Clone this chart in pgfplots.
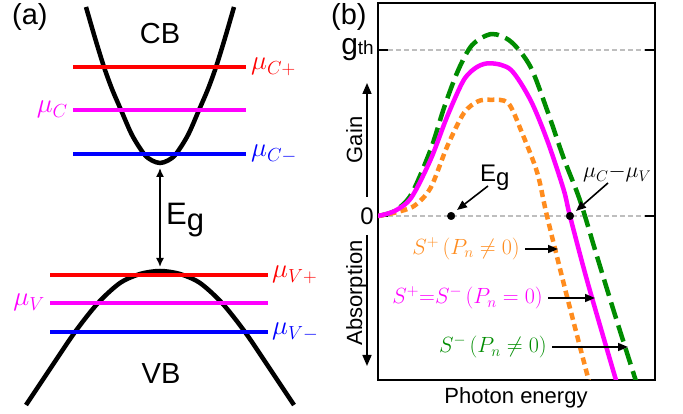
\documentclass[border=0pt]{standalone}
\usepackage{fix-cm}
\usepackage{pgfplots}
\pgfplotsset{compat=1.18}
\usepackage{fontspec}
\setmainfont{Liberation Sans}
\setsansfont{Liberation Sans}
\usetikzlibrary{arrows.meta}
\definecolor{cgreen}{RGB}{0,140,0}
\definecolor{corange}{RGB}{255,140,30}
\definecolor{cmag}{RGB}{255,0,255}
\definecolor{cred}{RGB}{255,0,0}
\definecolor{cblue}{RGB}{0,0,255}
\definecolor{cgray}{RGB}{190,190,190}
\newcommand{\fs}[1]{\fontsize{#1}{#1}\selectfont}
\begin{document}
\begin{tikzpicture}
\useasboundingbox (0,0) rectangle (683pt,414pt);
% ---------------- panel (a)
\begin{axis}[at={(0pt,0pt)}, anchor=south west, scale only axis,
  width=330pt, height=414pt, xmin=0, xmax=330, ymin=0, ymax=414,
  y dir=reverse, hide axis, clip=false]
\addplot[black, line width=4.5pt, smooth] coordinates {
 (86,7) (95,38) (104,67) (112,89) (121,110) (132,135) (144,154) (152,160.5) (160,163)
 (168,160.5) (176,154) (188,135) (199,110) (208,89) (216,67) (225,38) (234,7)};
\addplot[black, line width=4.5pt, smooth] coordinates {
 (26,405) (50,369) (75,332) (98,303) (120,283) (140,274) (160,271)
 (180,274) (200,283) (222,303) (245,332) (270,369) (294,405)};
\addplot[cred, line width=4.5pt] coordinates {(73,67) (246,67)};
\addplot[cmag, line width=4.5pt] coordinates {(73,110) (246,110)};
\addplot[cblue, line width=4.5pt] coordinates {(73,154) (246,154)};
\addplot[cred, line width=4.5pt] coordinates {(50,275) (268,275)};
\addplot[cmag, line width=4.5pt] coordinates {(50,303) (268,303)};
\addplot[cblue, line width=4.5pt] coordinates {(50,332) (268,332)};
\end{axis}
% ---------------- panel (b)
\begin{axis}[at={(378pt,34pt)}, anchor=south west, scale only axis,
  width=277pt, height=377pt, xmin=0, xmax=10, ymin=-0.988, ymax=1.283,
  axis line style={line width=1.6pt}, xtick=\empty, ytick={0,1},
  yticklabels={0,{\fs{30}g\fs{19}th}}, tick align=inside,
  major tick length=10pt, tick style={line width=1.6pt, black},
  yticklabel style={font=\fs{24}, inner sep=0pt, xshift=-4pt}]
\addplot[cgray, line width=1.5pt, dash pattern=on 5pt off 3pt] coordinates {(0.36,0) (9.64,0)};
\addplot[cgray, line width=1.5pt, dash pattern=on 5pt off 3pt] coordinates {(0.36,1) (9.64,1)};
\addplot[cgreen, line width=4.5pt, dash pattern=on 17pt off 7pt, smooth] coordinates {
 (0,0) (0.6,0.03) (1.2,0.13) (1.9,0.40) (2.4,0.66) (2.9,0.88) (3.4,1.03) (4.1,1.096)
 (4.8,1.05) (5.5,0.90) (6.1,0.64) (6.7,0.35) (7.3,0.09) (7.9,-0.24) (8.6,-0.62) (9.4,-1.04)};
\addplot[corange, line width=4.5pt, dash pattern=on 7pt off 4.5pt, smooth] coordinates {
 (0,0) (0.6,0.02) (1.3,0.06) (1.9,0.17) (2.5,0.42) (3.1,0.62) (3.6,0.69) (4.05,0.70)
 (4.7,0.68) (5.2,0.50) (5.75,0.26) (6.1,0.0) (6.8,-0.47) (7.7,-1.05)};
\addplot[cmag, line width=4.5pt, smooth] coordinates {
 (0,0) (0.6,0.03) (1.2,0.11) (1.9,0.34) (2.5,0.60) (3.1,0.82) (3.6,0.90) (4.1,0.92)
 (4.8,0.88) (5.5,0.70) (6.1,0.46) (6.7,0.16) (6.93,0) (7.6,-0.42) (8.7,-1.05)};
\addplot[only marks, mark=*, mark size=3.8pt, black] coordinates {(2.64,0) (6.93,0)};
\end{axis}
% ---------------- annotations (pixel coordinates)
\begin{scope}[x=1pt, y=-1pt, yshift=414pt, every node/.style={inner sep=0pt}]
\node[anchor=base west, font=\fs{29}] at (12,25) {(a)};
\node[anchor=base west, font=\fs{29}] at (331,25) {(b)};
\node[font=\fs{29}] at (160,34) {CB};
\node[font=\fs{29}] at (161,374) {VB};
\draw[{Latex[length=9pt,width=8pt]}-{Latex[length=9pt,width=8pt]}, line width=1.5pt] (160,168) -- (160,267);
\node[anchor=base west, font=\fs{31}] at (166,225) {E\raisebox{-6pt}{g}};
\node[anchor=base west, text=cred, font=\fs{27}] at (251,70) {$\mu_{C+}$};
\node[anchor=base east, text=cmag, font=\fs{27}] at (68,113) {$\mu_{C}$};
\node[anchor=base west, text=cblue, font=\fs{27}] at (251,157) {$\mu_{C-}$};
\node[anchor=base west, text=cred, font=\fs{27}] at (272,278) {$\mu_{V+}$};
\node[anchor=base east, text=cmag, font=\fs{27}] at (45,306) {$\mu_{V}$};
\node[anchor=base west, text=cblue, font=\fs{27}] at (272,335) {$\mu_{V-}$};
% panel b labels
\draw[-{Triangle[length=11pt,width=9pt]}, line width=1.6pt] (367,197) -- (367,83);
\draw[-{Triangle[length=11pt,width=9pt]}, line width=1.6pt] (367,235) -- (367,366);
\node[rotate=90, anchor=base, font=\fs{22}] at (362,140) {Gain};
\node[rotate=90, anchor=base, font=\fs{22}] at (362,293) {Absorption};
\node[anchor=base, font=\fs{22}] at (516,404) {Photon energy};
\node[anchor=base west, font=\fs{24}] at (480,182) {E\raisebox{-4pt}{g}};
\draw[-{Triangle[length=10pt,width=8pt]}, line width=1.6pt] (488,186) -- (457,210);
\node[anchor=base west, font=\fs{22}] at (583,178) {$\mu_C{-}\mu_V$};
\draw[-{Triangle[length=10pt,width=8pt]}, line width=1.6pt] (608,183) -- (576,211);
\node[anchor=east, text=corange, font=\fs{22}] at (520,249) {$S^{+}\,(P_n\neq 0)$};
\draw[-{Triangle[length=10pt,width=8pt]}, line width=1.6pt] (525,249) -- (558,249);
\node[anchor=east, text=cmag, font=\fs{22}] at (543,298) {$S^{+}{=}S^{-}\,(P_n=0)$};
\draw[-{Triangle[length=10pt,width=8pt]}, line width=1.6pt] (548,298) -- (595,298);
\node[anchor=east, text=cgreen, font=\fs{22}] at (547,347) {$S^{-}\,(P_n\neq 0)$};
\draw[-{Triangle[length=10pt,width=8pt]}, line width=1.6pt] (552,347) -- (628,347);
\end{scope}
\end{tikzpicture}
\end{document}
